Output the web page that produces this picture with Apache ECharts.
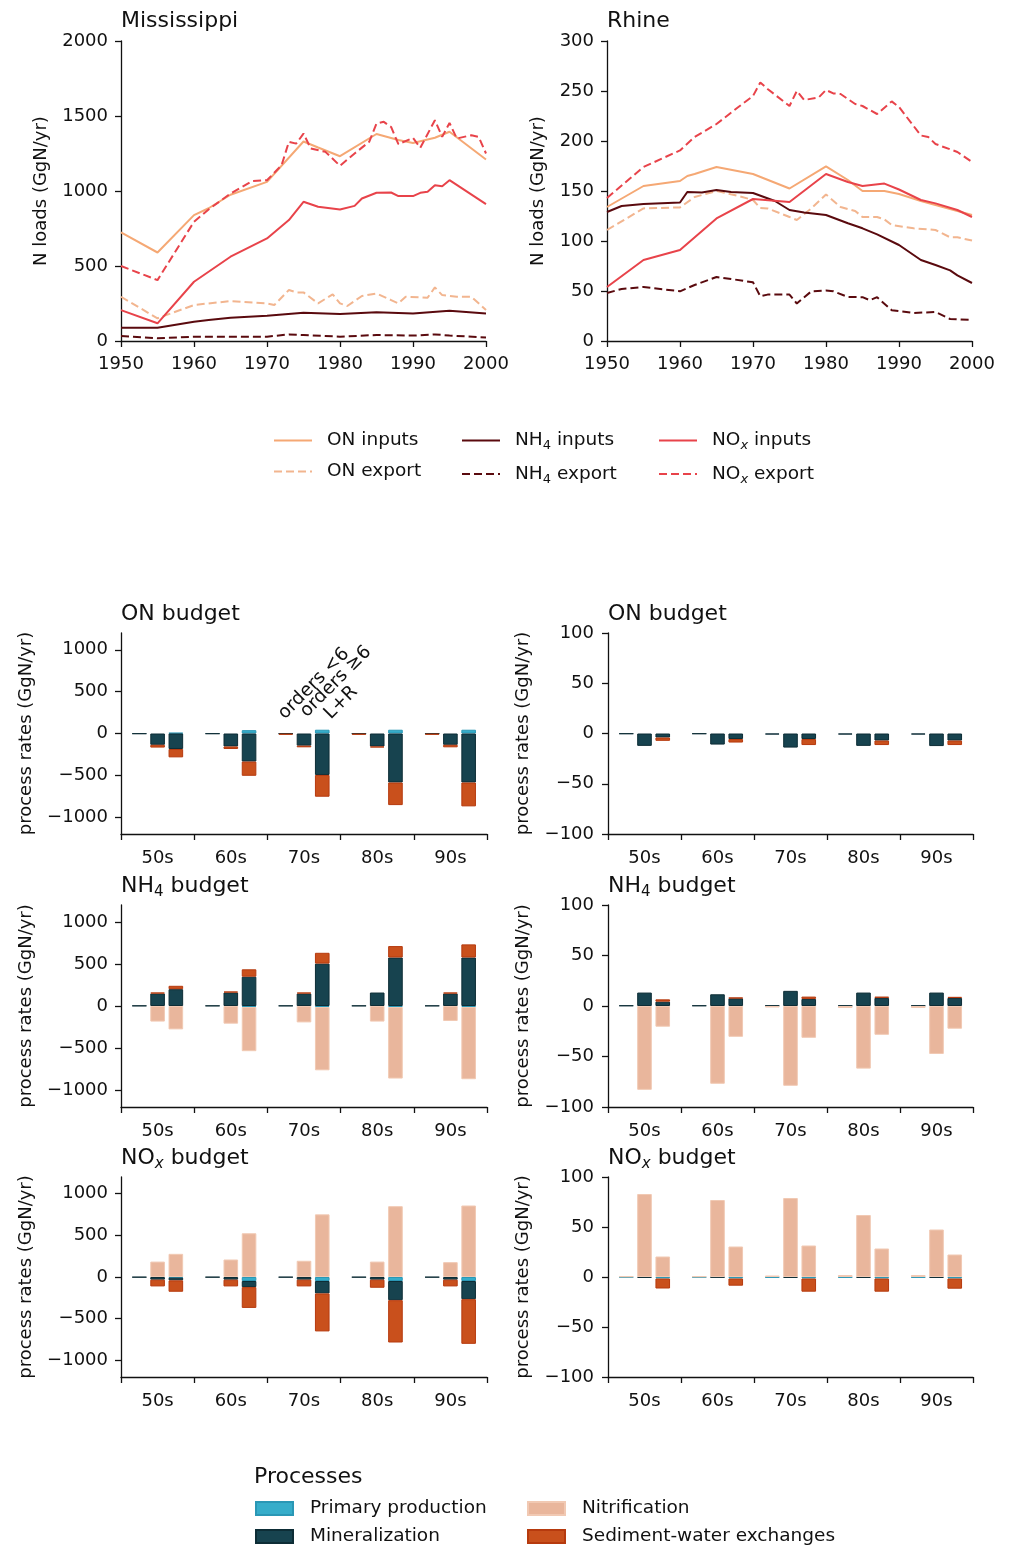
<!DOCTYPE html>
<html>
<head>
<meta charset="utf-8">
<script src="https://cdn.jsdelivr.net/npm/echarts@6/dist/echarts.min.js"></script>
<style>
  html, body { margin: 0; padding: 0; background: #fff; }
  #main { width: 1010px; height: 1549px; }
</style>
</head>
<body>
<div id="main"></div>
<script>
// ---------------- data ----------------
const decades = ['50s', '60s', '70s', '80s', '90s'];

// Mississippi N loads, [year, GgN/yr]
const msOnInputs  = [[1950,724],[1955,590],[1960,839],[1962,885],[1965,975],[1970,1061],[1975,1330],[1977,1290],[1980,1232],[1985,1380],[1988,1340],[1990,1320],[1993,1355],[1995,1395],[2000,1210]];
const msOnExport  = [[1950,295],[1955,151],[1960,240],[1965,266],[1970,251],[1971,240],[1973,340],[1974,324],[1975,324],[1977,251],[1979,311],[1980,251],[1981,233],[1983,300],[1985,317],[1987,273],[1988,251],[1989,295],[1992,289],[1993,357],[1994,306],[1996,295],[1998,295],[2000,206]];
const msNh4Inputs = [[1950,89],[1955,89],[1960,129],[1962,140],[1965,155],[1970,169],[1975,189],[1980,180],[1985,191],[1990,184],[1995,202],[2000,184]];
const msNh4Export = [[1950,33],[1955,18],[1960,29],[1970,29],[1973,44],[1975,40],[1980,29],[1985,40],[1990,36],[1993,44],[1995,36],[2000,24]];
const msNoxInputs = [[1950,206],[1955,118],[1960,395],[1965,562],[1970,684],[1973,806],[1975,928],[1977,895],[1980,877],[1982,901],[1983,950],[1985,988],[1987,990],[1988,966],[1990,966],[1991,988],[1992,995],[1993,1039],[1994,1032],[1995,1072],[2000,912]];
const msNoxExport = [[1950,500],[1955,406],[1960,795],[1962,877],[1965,983],[1968,1066],[1970,1072],[1972,1172],[1973,1328],[1974,1316],[1975,1383],[1976,1283],[1978,1261],[1980,1168],[1982,1250],[1984,1328],[1985,1450],[1986,1461],[1987,1427],[1988,1312],[1990,1354],[1991,1288],[1993,1472],[1994,1361],[1995,1454],[1996,1350],[1998,1372],[1999,1361],[2000,1250]];

// Rhine N loads, [year, GgN/yr]
const rhOnInputs  = [[1950,134],[1955,155],[1960,160],[1961,165],[1962,167],[1965,174],[1970,167],[1975,152.5],[1980,174.7],[1983,161],[1985,150],[1988,150],[1990,147],[1993,140],[1995,136],[1998,130],[2000,126]];
const rhOnExport  = [[1950,111],[1955,132.6],[1960,133.6],[1962,144],[1965,150],[1968,145],[1970,141],[1971,133],[1972,132.6],[1975,124],[1976,121],[1978,132.6],[1980,146.5],[1982,134],[1984,130],[1985,124],[1987,124],[1988,121.6],[1989,116],[1992,112.7],[1995,111],[1997,103.7],[1998,103.7],[2000,100.4]];
const rhNh4Inputs = [[1950,129],[1952,135],[1955,137],[1960,138.5],[1961,149],[1963,148.5],[1965,151],[1967,149],[1970,148],[1973,140],[1975,131],[1977,128.6],[1980,126],[1983,117.7],[1985,112.7],[1987,106.7],[1990,96],[1993,81],[1995,76],[1997,70.6],[1998,65.6],[2000,58]];
const rhNh4Export = [[1950,48],[1952,52],[1955,54],[1960,49.7],[1962,56],[1965,64],[1967,62],[1970,58.7],[1971,44.7],[1972,46.4],[1975,46.4],[1976,37.5],[1978,49.7],[1980,50.4],[1981,49.7],[1983,44],[1985,43.8],[1986,40.8],[1987,43.8],[1989,30.8],[1990,29.8],[1992,28],[1995,29],[1997,22],[2000,21]];
const rhNoxInputs = [[1950,54],[1955,81],[1960,91],[1965,122.6],[1970,142],[1975,139],[1980,167],[1983,159],[1985,155],[1988,157.4],[1990,151.5],[1993,141],[1995,137.6],[1998,131],[2000,124]];
const rhNoxExport = [[1950,143],[1955,174],[1960,190.6],[1962,204],[1965,217],[1968,234],[1970,245],[1971,258.5],[1972,252],[1975,235],[1976,250],[1977,241],[1979,243.6],[1980,251],[1981,247.6],[1982,247],[1984,237],[1985,235],[1987,227],[1989,239.6],[1990,234],[1993,205.5],[1994,204],[1995,197],[1998,189],[2000,179]];

// Process rates (GgN/yr): rows = [orders <6, orders >=6, L+R], columns = decades
// Mississippi, ON budget
const msOnPP  = [[null,null,null,null,null],[null,null,null,null,null],[8,40,45,45,45]];
const msOnMin = [[-4,-4,-3,-3,-3],[-135,-155,-145,-155,-135],[-185,-335,-495,-585,-585]];
const msOnNit = [[null,null,null,null,null],[null,null,null,null,null],[null,null,null,null,null]];
const msOnSed = [[null,null,-12,-12,-12],[-33,-30,-20,-12,-30],[-100,-170,-260,-270,-285]];
// Mississippi, NH4 budget
const msNh4PP  = [[null,null,null,null,null],[null,null,null,null,null],[null,-12,-12,-12,-12]];
const msNh4Min = [[4,4,4,4,4],[148,160,148,160,148],[200,348,504,576,576]];
const msNh4Nit = [[null,null,null,null,null],[-185,-210,-195,-185,-178],[-278,-525,-752,-850,-858]];
const msNh4Sed = [[null,null,null,null,null],[12,12,12,null,12],[40,88,128,136,156]];
// Mississippi, NOx budget
const msNoxPP  = [[null,null,null,null,null],[null,null,null,null,null],[-8,-48,-48,-48,-48]];
const msNoxMin = [[-4,-4,-4,-4,-4],[-32,-32,-32,-32,-32],[-32,-73,-149,-230,-218]];
const msNoxNit = [[null,null,null,null,null],[185,210,195,185,178],[278,525,752,850,858]];
const msNoxSed = [[null,null,null,null,null],[-81,-81,-81,-97,-81],[-137,-250,-456,-508,-536]];
// Rhine, ON budget
const rhOnPP  = [[null,null,null,null,null],[null,null,null,null,null],[null,null,null,null,null]];
const rhOnMin = [[-0.4,-0.4,-1,-1,-1],[-12.3,-11,-14,-12.3,-12.5],[-4,-5.5,-5.5,-7,-7]];
const rhOnNit = [[null,null,null,null,null],[null,null,null,null,null],[null,null,null,null,null]];
const rhOnSed = [[null,null,null,null,null],[null,null,null,null,null],[-3.3,-3.5,-6,-4.5,-4.5]];
// Rhine, NH4 budget
const rhNh4PP  = [[null,null,null,null,null],[null,null,null,null,null],[null,null,null,null,null]];
const rhNh4Min = [[0.5,0.5,0.5,0.5,0.5],[13.3,11.6,15,13.3,13.3],[4.3,7.6,7,8,8]];
const rhNh4Nit = [[null,null,-1.5,-2,-2],[-83,-77,-79,-62,-47.5],[-20.5,-30.5,-31.5,-28.5,-22.5]];
const rhNh4Sed = [[null,null,null,null,null],[null,null,null,null,null],[2.3,0.7,2.3,1.3,1]];
// Rhine, NOx budget
const rhNoxPP  = [[-0.6,-0.6,-0.6,-0.6,-0.6],[null,null,null,null,null],[-1.5,-1.5,-1.5,-1.5,-1.5]];
const rhNoxMin = [[null,null,null,null,null],[-0.8,-0.5,-0.8,-0.8,-0.8],[null,null,null,null,null]];
const rhNoxNit = [[0.6,0.6,1.5,2,2],[83,77,79,62,47.5],[20.5,30.5,31.5,28.5,22.5]];
const rhNoxSed = [[null,null,null,null,null],[null,null,null,null,null],[-10,-7.2,-13.2,-13.2,-10.2]];

// ---------------- styling ----------------
const FONT = 'DejaVu Sans';
const INK = '#111';
const lineColors = { on: '#f5a874', onExp: '#f2b58f', nh4: '#5a0a0e', nox: '#e8434a' };
const procNames  = ['Primary production', 'Mineralization', 'Nitrification', 'Sediment-water exchanges'];
const procFill   = ['#36adca', '#17434f', '#e9b69c', '#c9501c'];
const procEdge   = ['#2a97b5', '#0d2d36', '#f1c9b3', '#b63a0e'];

const tok = (size, extra) => Object.assign({ fontFamily: FONT, fontSize: size, fontWeight: 'normal', color: INK }, extra || {});
const rich = {
  t: tok(18.5, { lineHeight: 24 }),
  s: tok(13, { lineHeight: 13, verticalAlign: 'bottom' }),
  x: tok(13, { lineHeight: 13, verticalAlign: 'bottom', fontStyle: 'italic' })
};
const titleRich = {
  t: tok(22, { lineHeight: 28 }),
  s: tok(15, { lineHeight: 15, verticalAlign: 'bottom' }),
  x: tok(15, { lineHeight: 15, verticalAlign: 'bottom', fontStyle: 'italic' })
};
function chem(name) {
  if (name.indexOf('NH4') === 0) return '{t|NH}{s|4}{t|' + name.slice(3) + '}';
  if (name.indexOf('NOx') === 0) return '{t|NO}{x|x}{t|' + name.slice(3) + '}';
  return '{t|' + name + '}';
}
const plain = v => String(v).replace('-', '\u2212');

const axisLine = { show: true, onZero: false, lineStyle: { color: INK, width: 1.3 } };
const axisTick = { show: true, length: 6, lineStyle: { color: INK, width: 1.3 } };
const tickFont = { fontFamily: FONT, fontSize: 18, color: INK };

// ---------------- layout ----------------
const lineGrids = [
  { left: 121, top: 41, width: 365, height: 300 },
  { left: 607, top: 41, width: 365, height: 300 }
];
const barRows = [{ top: 633, height: 201 }, { top: 905, height: 202 }, { top: 1177, height: 200 }];
const barCols = [{ left: 121, width: 366 }, { left: 608, width: 365 }];

const grid = [], xAxis = [], yAxis = [], series = [];

// line panels
const lineYMax = [2000, 300], lineYStep = [500, 50], lineNameGap = [71, 60];
lineGrids.forEach((g, i) => {
  grid.push(g);
  xAxis.push({
    gridIndex: i, type: 'value', min: 1950, max: 2000, interval: 10,
    axisLine, axisTick, splitLine: { show: false },
    axisLabel: Object.assign({ margin: 14, formatter: plain }, tickFont)
  });
  yAxis.push({
    gridIndex: i, type: 'value', min: 0, max: lineYMax[i], interval: lineYStep[i],
    axisLine, axisTick, splitLine: { show: false },
    axisLabel: Object.assign({ margin: 13, formatter: plain }, tickFont),
    name: 'N loads (GgN/yr)', nameLocation: 'middle', nameRotate: 90, nameGap: lineNameGap[i],
    nameTextStyle: { fontFamily: FONT, fontSize: 18, color: INK }
  });
});

function addLine(name, data, idx, color, dashed) {
  series.push({
    type: 'line', name, data, xAxisIndex: idx, yAxisIndex: idx,
    symbol: 'none', showSymbol: false, animation: false,
    lineStyle: { color, width: 2, type: dashed ? [8, 4] : 'solid' },
    itemStyle: { color }
  });
}
addLine('ON inputs',  msOnInputs,  0, lineColors.on, false);
addLine('ON export',  msOnExport,  0, lineColors.onExp, true);
addLine('NH4 inputs', msNh4Inputs, 0, lineColors.nh4, false);
addLine('NH4 export', msNh4Export, 0, lineColors.nh4, true);
addLine('NOx inputs', msNoxInputs, 0, lineColors.nox, false);
addLine('NOx export', msNoxExport, 0, lineColors.nox, true);
addLine('ON inputs',  rhOnInputs,  1, lineColors.on, false);
addLine('ON export',  rhOnExport,  1, lineColors.onExp, true);
addLine('NH4 inputs', rhNh4Inputs, 1, lineColors.nh4, false);
addLine('NH4 export', rhNh4Export, 1, lineColors.nh4, true);
addLine('NOx inputs', rhNoxInputs, 1, lineColors.nox, false);
addLine('NOx export', rhNoxExport, 1, lineColors.nox, true);

// budget panels (row-major: ON, NH4, NOx; Mississippi left, Rhine right)
const budgets = [
  [[msOnPP, msOnMin, msOnNit, msOnSed],     [rhOnPP, rhOnMin, rhOnNit, rhOnSed]],
  [[msNh4PP, msNh4Min, msNh4Nit, msNh4Sed], [rhNh4PP, rhNh4Min, rhNh4Nit, rhNh4Sed]],
  [[msNoxPP, msNoxMin, msNoxNit, msNoxSed], [rhNoxPP, rhNoxMin, rhNoxNit, rhNoxSed]]
];
const barNameGap = [86, 76];
barRows.forEach((row, r) => {
  barCols.forEach((col, c) => {
    const idx = grid.length;
    grid.push({ left: col.left, width: col.width, top: row.top, height: row.height });
    xAxis.push({
      gridIndex: idx, type: 'category', data: decades,
      axisLine, axisTick: Object.assign({ alignWithLabel: false, interval: 0 }, axisTick),
      axisLabel: Object.assign({ margin: 15, interval: 0 }, tickFont)
    });
    const yBase = {
      gridIndex: idx, type: 'value', axisLine, splitLine: { show: false },
      name: 'process rates (GgN/yr)', nameLocation: 'middle', nameRotate: 90, nameGap: barNameGap[c],
      nameTextStyle: { fontFamily: FONT, fontSize: 18, color: INK }
    };
    if (c === 0) {
      const ticks = [-1000, -500, 0, 500, 1000];
      yAxis.push(Object.assign(yBase, {
        min: -1200, max: 1200,
        axisTick: Object.assign({ customValues: ticks }, axisTick),
        axisLabel: Object.assign({ margin: 13, customValues: ticks, formatter: plain }, tickFont)
      }));
    } else {
      yAxis.push(Object.assign(yBase, {
        min: -100, max: 100, interval: 50, axisTick,
        axisLabel: Object.assign({ margin: 14, formatter: plain }, tickFont)
      }));
    }
    const b = budgets[r][c];
    for (let g = 0; g < 3; g++) {
      for (let p = 0; p < 4; p++) {
        series.push({
          type: 'bar', name: procNames[p], data: b[p][g],
          xAxisIndex: idx, yAxisIndex: idx, stack: 'p' + idx + 'g' + g,
          barWidth: 14.6, barGap: '25%', animation: false,
          itemStyle: { color: procFill[p], borderColor: procEdge[p], borderWidth: 1 }
        });
      }
    }
  });
});

// ---------------- titles & legends ----------------
const title = [
  { text: '{t|Mississippi}', left: 121, top: 7 },
  { text: '{t|Rhine}', left: 607, top: 7 },
  { text: chem('ON budget'), left: 121, top: 600 },
  { text: chem('ON budget'), left: 608, top: 600 },
  { text: chem('NH4 budget'), left: 121, top: 872 },
  { text: chem('NH4 budget'), left: 608, top: 872 },
  { text: chem('NOx budget'), left: 121, top: 1144 },
  { text: chem('NOx budget'), left: 608, top: 1144 },
  { text: '{t|Processes}', left: 254, top: 1463 }
].map(t => Object.assign({ padding: 0, textStyle: { fontWeight: 'normal', rich: titleRich } }, t));

const lineLegend = (names, left) => ({
  data: names, left, top: 431, orient: 'vertical', itemWidth: 38, itemHeight: 14, itemGap: 12,
  padding: 0, selectedMode: false, formatter: chem,
  itemStyle: { opacity: 0 },
  textStyle: { rich, padding: [0, 0, 0, 10] }
});
const procLegend = (names, left) => ({
  data: names, left, top: 1499, orient: 'vertical', icon: 'rect', itemWidth: 37, itemHeight: 13, itemGap: 9,
  padding: 0, selectedMode: false, formatter: chem,
  textStyle: { rich, padding: [0, 0, 0, 12] }
});
const legend = [
  lineLegend(['ON inputs', 'ON export'], 273),
  lineLegend(['NH4 inputs', 'NH4 export'], 461),
  lineLegend(['NOx inputs', 'NOx export'], 658),
  procLegend(['Primary production', 'Mineralization'], 255),
  procLegend(['Nitrification', 'Sediment-water exchanges'], 527)
];

// group labels over the 70s bars of the Mississippi ON budget
const groupLabels = [['orders <6', 288, 723], ['orders \u22656', 310, 721], ['L+R', 334, 723]];
const graphic = groupLabels.map(([text, x, y]) => ({
  type: 'text', x, y, rotation: Math.PI / 4,
  style: { text, fontFamily: FONT, fontSize: 18.5, fill: INK, align: 'left', verticalAlign: 'bottom' }
}));

const chart = echarts.init(document.getElementById('main'), null, { renderer: 'canvas' });
chart.setOption({
  animation: false, backgroundColor: '#fff',
  title, legend, grid, xAxis, yAxis, series, graphic
});
</script>
</body>
</html>
